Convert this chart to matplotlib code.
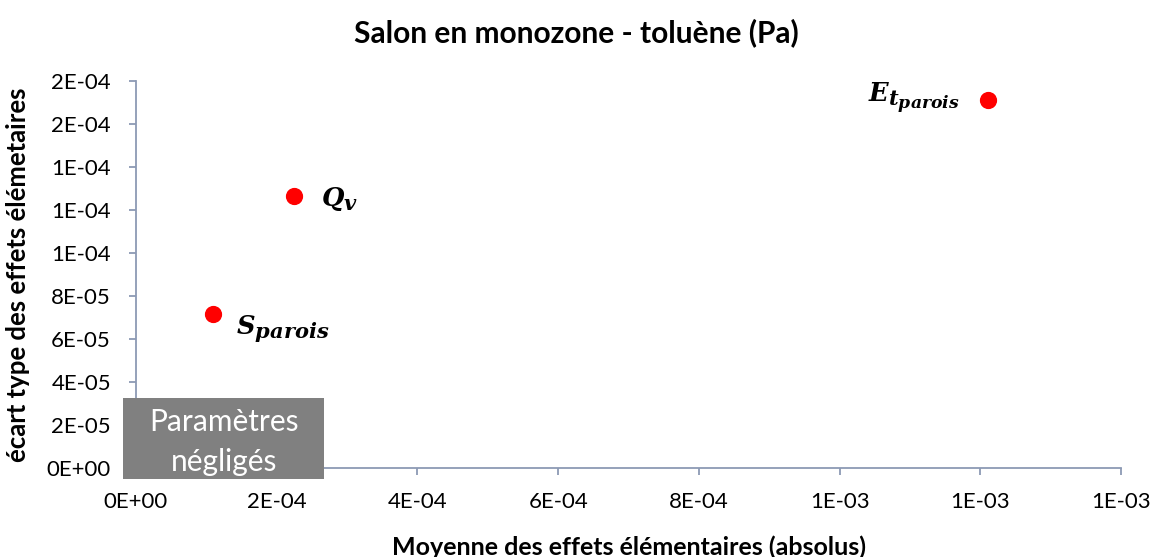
import numpy as np
import matplotlib
matplotlib.use("Agg")
from matplotlib import pyplot as plt
from matplotlib.patches import Rectangle
import matplotlib._mathtext as mathtext_core

plt.rcParams['font.family'] = ['Lato', 'DejaVu Sans']
plt.rcParams['mathtext.fontset'] = 'custom'
plt.rcParams['mathtext.it'] = 'DejaVu Serif:italic:bold'
plt.rcParams['mathtext.rm'] = 'DejaVu Serif:bold'
# subscripts a bit larger than the mathtext default
mathtext_core.SHRINK_FACTOR = 0.82

# elementary effects (Morris screening) for toluene, living room single zone
params = [r'$S_{parois}$', r'$Q_v$', r'$E_{t_{parois}}$']
mu_star = [1.10e-4, 2.25e-4, 1.211e-3]
sigma = [7.16e-5, 1.265e-4, 1.712e-4]

x_ticks = np.arange(0, 1.41e-3, 2e-4)
y_ticks = np.arange(0, 1.81e-4, 2e-5)

axis_col = '#8C9AB4'

fig = plt.figure(figsize=(11.53, 5.57), dpi=100)
ax = fig.add_axes([136/1153, 89/557, 985/1153, 387/557])

ax.scatter(mu_star, sigma, s=130, color='#FF0000', zorder=3, clip_on=False)

# label offsets in points: right for the two first, left for the last one
offsets = [(16, -15), (19, -7), (-20, -2)]
aligns = ['left', 'left', 'right']
for name, x, y, off, ha in zip(params, mu_star, sigma, offsets, aligns):
    ax.annotate(name, (x, y), xytext=off, textcoords='offset points',
                ha=ha, va='baseline', fontsize=18.5)

ax.set_xlim(0, 1.4e-3)
ax.set_ylim(0, 1.8e-4)
ax.set_xticks(x_ticks)
ax.set_yticks(y_ticks)
ax.set_xticklabels(['%.0E' % v for v in x_ticks])
ax.set_yticklabels(['%.0E' % v for v in y_ticks])
ax.tick_params(axis='both', direction='out', length=5, width=1.3,
               color=axis_col, labelsize=16)
ax.tick_params(axis='y', pad=13)
ax.tick_params(axis='x', pad=12)

for side in ['top', 'right']:
    ax.spines[side].set_visible(False)
for side in ['left', 'bottom']:
    ax.spines[side].set_color(axis_col)
    ax.spines[side].set_linewidth(1.3)

# grey zone of neglected parameters
box = Rectangle((-0.0132, -0.028), 0.2042, 0.209, transform=ax.transAxes,
                facecolor='#808080', edgecolor='none', clip_on=False, zorder=4)
ax.add_patch(box)
ax.text(0.0889, 0.067, 'Paramètres\nnégligés', transform=ax.transAxes,
        ha='center', va='center', color='white', fontsize=21.5,
        linespacing=1.52, zorder=5)

fig.text(0.5, 1 - 33/557, 'Salon en monozone - toluène (Pa)', ha='center',
         va='center', fontsize=21.5, fontweight='bold')
ax.set_xlabel('Moyenne des effets élémentaires (absolus)', fontsize=18,
              fontweight='bold')
ax.set_ylabel('écart type des effets élémetaires', fontsize=18.5,
              fontweight='bold')
ax.xaxis.set_label_coords(0.5, -0.175)
ax.yaxis.set_label_coords(-0.108, 0.5)

fig.savefig('out.png', dpi=100)
